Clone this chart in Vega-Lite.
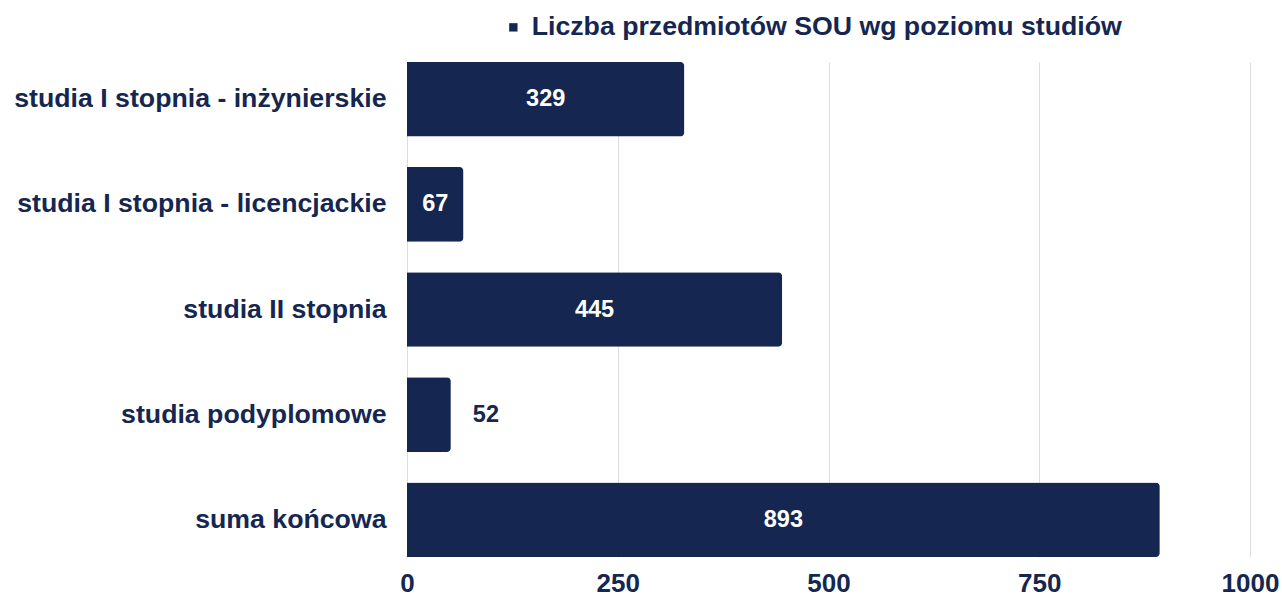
{
  "$schema": "https://vega.github.io/schema/vega-lite/v6.json",
  "autosize": "none",
  "width": 843,
  "height": 495,
  "padding": {"left": 407, "top": 62, "right": 32, "bottom": 40},
  "background": "white",
  "config": {
    "font": "Liberation Sans",
    "view": {"stroke": null}
  },
  "data": {
    "values": [
      {"kategoria": "studia I stopnia - inżynierskie", "liczba": 329},
      {"kategoria": "studia I stopnia - licencjackie", "liczba": 67},
      {"kategoria": "studia II stopnia", "liczba": 445},
      {"kategoria": "studia podyplomowe", "liczba": 52},
      {"kategoria": "suma końcowa", "liczba": 893}
    ]
  },
  "encoding": {
    "y": {
      "field": "kategoria",
      "type": "nominal",
      "sort": null,
      "title": null,
      "scale": {"paddingInner": 0.29, "paddingOuter": 0},
      "axis": {
        "domain": false,
        "ticks": false,
        "labelFont": "Liberation Sans",
        "labelFontWeight": "bold",
        "labelFontSize": 26.7,
        "labelColor": "#152751",
        "labelPadding": 21,
        "labelLimit": 500
      }
    }
  },
  "layer": [
    {
      "mark": {"type": "bar", "cornerRadiusEnd": 4, "color": "#152751"},
      "encoding": {
        "x": {
          "field": "liczba",
          "type": "quantitative",
          "title": null,
          "scale": {"domain": [0, 1000], "nice": false},
          "axis": {
            "values": [0, 250, 500, 750, 1000],
            "format": "d",
            "domain": false,
            "ticks": false,
            "grid": true,
            "gridColor": "#dcdbe6",
            "gridWidth": 1,
            "labelFont": "Liberation Sans",
            "labelFontWeight": "bold",
            "labelFontSize": 26,
            "labelColor": "#152751",
            "labelPadding": 13,
            "labelFlush": false
          }
        },
        "color": {
          "datum": "Liczba przedmiotów SOU wg poziomu studiów",
          "type": "nominal",
          "scale": {"range": ["#152751"]},
          "legend": {
            "title": null,
            "orient": "none",
            "legendX": 93,
            "legendY": -48,
            "symbolType": "square",
            "symbolSize": 70,
            "symbolStrokeWidth": 0,
            "labelFont": "Liberation Sans",
            "labelFontWeight": "bold",
            "labelFontSize": 26.7,
            "labelColor": "#152751",
            "labelLimit": 800,
            "labelOffset": 5
          }
        }
      }
    },
    {
      "transform": [
        {"filter": "datum.liczba >= 60"},
        {"calculate": "datum.liczba / 2", "as": "srodek"}
      ],
      "mark": {
        "type": "text",
        "color": "white",
        "fontWeight": "bold",
        "fontSize": 23.5,
        "font": "Liberation Sans",
        "align": "center",
        "baseline": "middle"
      },
      "encoding": {
        "x": {"field": "srodek", "type": "quantitative"},
        "text": {"field": "liczba", "type": "quantitative"}
      }
    },
    {
      "transform": [{"filter": "datum.liczba < 60"}],
      "mark": {
        "type": "text",
        "color": "#152751",
        "fontWeight": "bold",
        "fontSize": 23.5,
        "font": "Liberation Sans",
        "align": "left",
        "baseline": "middle",
        "dx": 22
      },
      "encoding": {
        "x": {"field": "liczba", "type": "quantitative"},
        "text": {"field": "liczba", "type": "quantitative"}
      }
    }
  ]
}
